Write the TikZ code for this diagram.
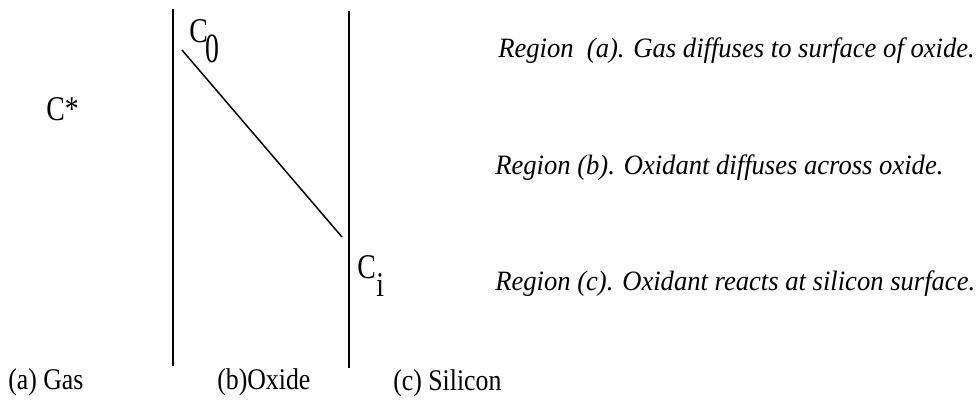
\documentclass[tikz,border=0pt]{standalone}
\usepackage{fontspec}
\setmainfont{Liberation Serif}
\newfontfamily\labfont[FakeStretch=0.86]{Liberation Serif}
\newfontfamily\regfont[FakeStretch=0.95]{Liberation Serif}
\newfontfamily\confont[FakeStretch=0.8]{Liberation Serif}
\begin{document}
\begin{tikzpicture}[x=0.75pt,y=-0.75pt,
  lbl/.style={inner sep=0pt,anchor=base west,font=\labfont\fontsize{22.5}{26}\selectfont},
  note/.style={inner sep=0pt,anchor=base west,font=\regfont\fontsize{21}{25}\selectfont\itshape},
  conc/.style={inner sep=0pt,anchor=base west,font=\confont\fontsize{26}{30}\selectfont},
  wall/.style={line width=1.5pt}]
\useasboundingbox (0,0) rectangle (977,404);
\coordinate (gtop) at (173,9);
\coordinate (gbot) at (173,366);
\coordinate (stop) at (348.5,11);
\coordinate (sbot) at (348.5,368);
\coordinate (chi) at (182,50);
\coordinate (clo) at (342,237);
\draw[wall] (gtop) -- (gbot);
\draw[wall] (stop) -- (sbot);
\draw[line width=1.1pt] (chi) -- (clo);
\node[conc] (cstar) at (46,120) {C*};
\node[conc] (czero) at (189,42) {C\kern-1.5pt\raisebox{-15pt}{\scalebox{1}[1.2]{0}}};
\node[conc] (ci) at (357,278) {C\kern0.5pt\raisebox{-14pt}{i}};
\node[lbl] (gas) at (8,389) {(a) Gas};
\node[lbl] (oxide) at (217,389) {(b)Oxide};
\node[lbl] (silicon) at (393,390) {(c) Silicon};
\node[note] (rega) at (498,57) {Region\ \ (a). Gas diffuses to surface of oxide.};
\node[note] (regb) at (495,174) {Region (b). Oxidant diffuses across oxide.};
\node[note] (regc) at (495,290) {Region (c). Oxidant reacts at silicon surface.};
\end{tikzpicture}
\end{document}
